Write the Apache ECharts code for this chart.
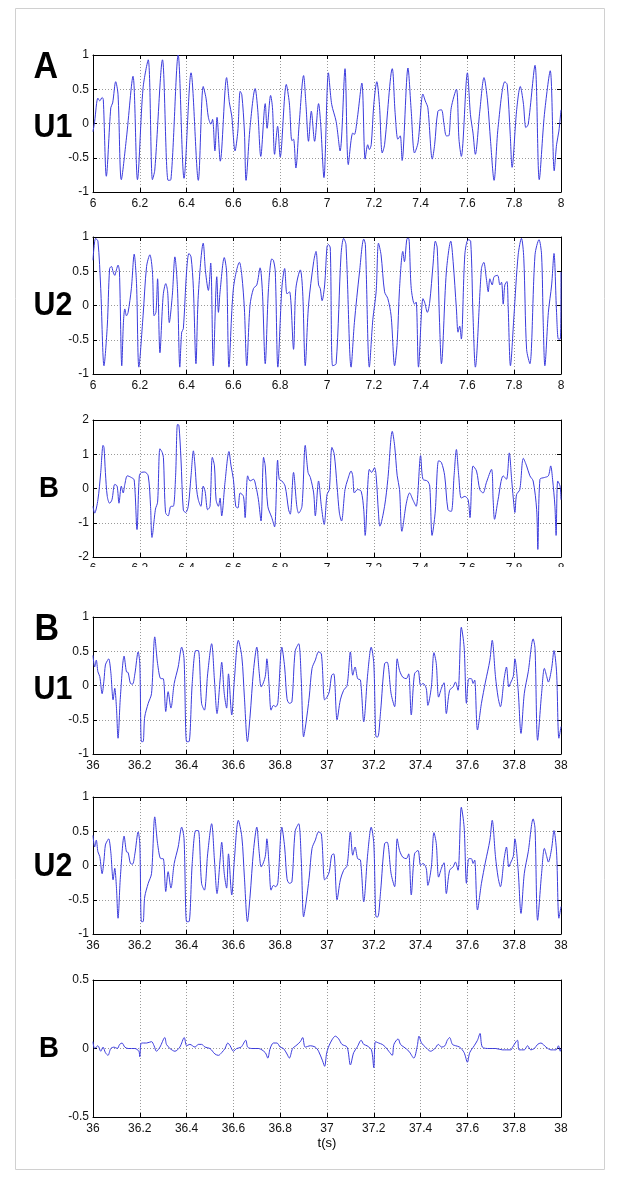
<!DOCTYPE html>
<html>
<head>
<meta charset="utf-8">
<script src="https://cdn.jsdelivr.net/npm/echarts@6/dist/echarts.min.js"></script>
<style>
  html, body { margin: 0; padding: 0; background: #fff; }
  #chart { width: 619px; height: 1178px; }
</style>
</head>
<body>
<div id="chart"></div>
<script>
// case A, t = 6..8 s  -- [t, value]
const aU1 = [
  [6.000,-0.12],[6.007,0.03],[6.021,0.37],[6.029,0.33],[6.039,0.38],[6.044,0.35],[6.057,-0.77],
  [6.076,0.23],[6.084,0.30],[6.097,0.61],[6.107,0.42],[6.121,-0.82],[6.143,-0.21],[6.171,0.69],
  [6.190,-0.82],[6.214,0.52],[6.236,0.93],[6.254,-0.82],[6.264,-0.68],[6.297,0.93],[6.321,-0.83],
  [6.333,-0.82],[6.364,1.0],[6.389,-0.80],[6.419,0.74],[6.450,-0.83],[6.471,0.54],[6.483,0.37],
  [6.493,0.09],[6.504,-0.01],[6.511,0.06],[6.521,-0.40],[6.530,0.09],[6.544,-0.55],[6.571,0.67],
  [6.583,0.30],[6.593,0.11],[6.607,-0.40],[6.619,-0.11],[6.629,0.47],[6.636,0.42],[6.647,-0.11],
  [6.654,-0.83],[6.671,-0.06],[6.693,0.51],[6.704,0.20],[6.717,-0.48],[6.736,0.29],[6.744,-0.07],
  [6.759,0.41],[6.767,0.23],[6.776,-0.45],[6.789,-0.04],[6.800,-0.49],[6.826,0.57],[6.839,0.30],
  [6.850,-0.25],[6.857,-0.23],[6.867,-0.65],[6.881,-0.01],[6.900,0.70],[6.910,0.28],[6.921,-0.26],
  [6.933,0.18],[6.947,-0.26],[6.964,0.29],[6.973,-0.01],[6.987,-0.79],[7.006,0.74],[7.020,0.28],
  [7.039,0.03],[7.056,-0.40],[7.077,0.80],[7.091,-0.60],[7.110,-0.14],[7.117,-0.16],[7.129,0.06],
  [7.149,0.59],[7.163,-0.52],[7.174,-0.31],[7.181,-0.38],[7.189,-0.31],[7.200,0.28],[7.213,0.61],
  [7.224,0.28],[7.236,-0.43],[7.246,-0.31],[7.279,0.80],[7.291,0.16],[7.303,-0.23],[7.313,-0.18],
  [7.321,-0.54],[7.346,0.81],[7.360,0.18],[7.374,-0.43],[7.389,-0.28],[7.410,0.43],[7.420,0.33],
  [7.431,0.23],[7.450,-0.52],[7.460,-0.31],[7.474,0.18],[7.489,0.20],[7.500,-0.01],[7.510,-0.18],
  [7.520,-0.18],[7.531,0.23],[7.553,0.50],[7.564,-0.23],[7.574,-0.48],[7.600,0.74],[7.613,0.13],
  [7.624,-0.14],[7.634,-0.45],[7.653,0.18],[7.671,0.67],[7.686,0.33],[7.699,-0.26],[7.714,-0.83],
  [7.731,-0.06],[7.760,0.61],[7.770,0.57],[7.783,-0.16],[7.791,-0.64],[7.810,0.18],[7.826,0.54],
  [7.839,0.30],[7.850,-0.06],[7.860,-0.01],[7.889,0.85],[7.907,-0.82],[7.929,0.13],[7.954,0.77],
  [7.971,-0.69],[7.981,-0.31],[7.991,-0.11],[8.000,0.20]
];
const aU2 = [
  [6.000,0.66],[6.011,0.98],[6.021,0.94],[6.033,0.25],[6.047,-0.88],[6.061,-0.30],[6.071,0.54],
  [6.079,0.57],[6.086,0.49],[6.093,0.44],[6.100,0.52],[6.107,0.59],[6.113,0.49],[6.123,-0.88],
  [6.130,-0.25],[6.136,-0.05],[6.143,-0.15],[6.150,-0.10],[6.164,0.25],[6.176,0.75],[6.186,0.32],
  [6.196,-0.90],[6.214,-0.15],[6.229,0.57],[6.243,0.74],[6.254,0.49],[6.261,-0.15],[6.269,-0.10],
  [6.276,0.39],[6.286,-0.69],[6.300,0.15],[6.311,0.32],[6.319,0.20],[6.326,-0.25],[6.339,0.15],
  [6.350,0.71],[6.361,0.25],[6.371,-0.90],[6.379,-0.39],[6.386,-0.34],[6.400,0.50],[6.410,0.76],
  [6.419,0.71],[6.429,0.25],[6.440,-0.85],[6.450,0.15],[6.471,0.91],[6.481,0.49],[6.493,0.22],
  [6.503,0.62],[6.514,-0.88],[6.529,0.42],[6.536,-0.10],[6.543,0.20],[6.561,0.70],[6.571,0.49],
  [6.581,-0.90],[6.600,0.25],[6.626,0.63],[6.636,0.44],[6.647,-0.05],[6.657,-0.88],[6.671,0.00],
  [6.686,0.25],[6.700,0.30],[6.714,0.55],[6.724,0.20],[6.736,-0.85],[6.750,0.25],[6.764,0.68],
  [6.771,0.66],[6.779,0.49],[6.790,-0.90],[6.807,0.25],[6.819,0.54],[6.829,0.17],[6.840,0.20],
  [6.857,-0.64],[6.867,0.25],[6.886,0.52],[6.896,0.20],[6.907,-0.88],[6.921,0.00],[6.943,0.64],
  [6.953,0.79],[6.964,0.30],[6.971,0.25],[6.979,0.07],[6.990,0.30],[7.000,0.86],[7.006,0.89],
  [7.014,0.84],[7.024,-0.88],[7.039,-0.85],[7.060,0.74],[7.071,0.98],[7.081,0.89],[7.103,-0.90],
  [7.117,-0.25],[7.139,0.49],[7.157,0.97],[7.164,0.89],[7.181,-0.90],[7.196,-0.20],[7.210,0.20],
  [7.220,0.91],[7.231,0.74],[7.246,0.20],[7.260,0.10],[7.274,-0.15],[7.289,-0.88],[7.300,-0.54],
  [7.310,0.25],[7.324,0.79],[7.331,0.64],[7.343,0.98],[7.349,0.98],[7.360,0.25],[7.374,0.02],
  [7.381,0.05],[7.391,-0.90],[7.410,0.10],[7.417,0.05],[7.429,-0.10],[7.439,0.05],[7.453,0.59],
  [7.463,0.94],[7.471,0.84],[7.481,-0.25],[7.489,-0.85],[7.510,0.49],[7.529,0.94],[7.539,0.64],
  [7.553,-0.05],[7.560,-0.39],[7.567,-0.30],[7.574,-0.49],[7.589,0.74],[7.603,0.96],[7.614,0.94],
  [7.624,-0.15],[7.634,-0.90],[7.660,0.54],[7.670,0.63],[7.681,0.39],[7.689,0.20],[7.696,0.39],
  [7.706,0.30],[7.714,0.42],[7.729,0.44],[7.739,0.30],[7.746,0.34],[7.753,0.02],[7.760,0.30],
  [7.769,0.35],[7.774,0.00],[7.784,-0.88],[7.799,-0.15],[7.817,0.74],[7.831,0.98],[7.841,0.69],
  [7.853,-0.64],[7.867,-0.85],[7.889,0.74],[7.906,0.96],[7.917,0.74],[7.924,-0.25],[7.931,-0.88],
  [7.946,-0.10],[7.960,0.30],[7.970,0.76],[7.981,-0.10],[7.989,-0.49],[7.997,-0.49],[8.000,0.49]
];
const aB = [
  [6.000,-0.52],[6.007,-0.72],[6.021,-0.33],[6.033,0.47],[6.043,1.26],[6.047,1.20],[6.053,0.47],
  [6.061,-0.23],[6.071,-0.43],[6.081,-0.33],[6.093,0.12],[6.103,0.07],[6.111,-0.43],[6.121,0.07],
  [6.129,-0.13],[6.136,0.12],[6.147,0.37],[6.164,0.32],[6.176,0.25],[6.188,-1.20],[6.198,0.37],
  [6.207,0.47],[6.221,0.48],[6.236,0.37],[6.246,-0.53],[6.252,-1.43],[6.267,-0.60],[6.276,-0.40],
  [6.286,1.16],[6.296,1.05],[6.301,0.90],[6.310,-0.70],[6.321,-0.80],[6.333,-0.52],[6.343,-0.52],
  [6.353,0.37],[6.361,1.87],[6.367,1.85],[6.376,0.86],[6.386,-0.63],[6.396,-0.70],[6.407,-0.52],
  [6.419,0.37],[6.429,1.10],[6.436,0.66],[6.443,-0.03],[6.450,-0.33],[6.461,-0.52],[6.471,0.07],
  [6.479,-0.08],[6.490,-0.62],[6.500,-0.52],[6.510,0.91],[6.519,0.66],[6.526,-0.33],[6.536,-0.52],
  [6.543,-0.28],[6.550,-0.80],[6.564,0.17],[6.581,1.08],[6.590,0.66],[6.600,0.27],[6.610,-0.52],
  [6.619,-0.57],[6.629,-0.13],[6.643,-0.23],[6.650,-0.85],[6.661,0.37],[6.671,0.22],[6.686,0.27],
  [6.696,0.07],[6.707,-0.33],[6.718,-0.95],[6.729,0.91],[6.736,0.66],[6.747,-0.52],[6.764,-0.85],
  [6.776,-1.12],[6.789,0.83],[6.796,0.27],[6.807,0.22],[6.821,0.07],[6.836,-0.62],[6.843,-0.75],
  [6.857,0.47],[6.871,-0.52],[6.879,-0.72],[6.893,-0.52],[6.907,1.26],[6.919,0.47],[6.929,0.32],
  [6.943,-0.13],[6.950,-0.80],[6.964,0.22],[6.976,-0.52],[6.988,-1.05],[7.000,-0.18],[7.010,-0.03],
  [7.021,1.20],[7.031,1.00],[7.043,0.07],[7.053,-0.72],[7.062,-0.95],[7.077,-0.03],[7.089,0.27],
  [7.103,0.51],[7.110,0.37],[7.117,-0.13],[7.131,-0.03],[7.146,-0.08],[7.157,-0.62],[7.163,-1.37],
  [7.181,0.56],[7.191,0.47],[7.203,0.61],[7.210,0.37],[7.220,-0.72],[7.226,-1.10],[7.246,-0.52],
  [7.260,0.27],[7.279,1.67],[7.289,1.25],[7.300,0.37],[7.310,-0.03],[7.320,-1.25],[7.339,-0.43],
  [7.353,-0.13],[7.367,-0.33],[7.381,-0.52],[7.400,0.96],[7.410,0.27],[7.429,0.22],[7.439,0.07],
  [7.449,-1.37],[7.462,-0.72],[7.477,0.81],[7.489,0.76],[7.503,0.37],[7.517,-0.62],[7.531,-0.67],
  [7.543,0.37],[7.553,1.14],[7.563,0.37],[7.574,-0.28],[7.589,-0.23],[7.603,-0.33],[7.611,-0.85],
  [7.624,0.66],[7.639,0.51],[7.653,-0.03],[7.667,-0.13],[7.681,0.17],[7.703,0.56],[7.710,-0.33],
  [7.716,-0.90],[7.731,-0.33],[7.753,0.37],[7.767,0.27],[7.779,1.04],[7.789,0.27],[7.796,-0.28],
  [7.803,-0.70],[7.810,-0.18],[7.824,-0.03],[7.839,0.88],[7.853,0.66],[7.867,0.37],[7.881,0.22],
  [7.896,-0.62],[7.901,-1.78],[7.910,0.27],[7.929,0.32],[7.946,0.37],[7.956,0.66],[7.964,0.27],
  [7.974,-0.52],[7.979,-1.37],[7.986,0.22],[7.996,0.07],[8.000,-0.33]
];

// case B, t = 36..38 s
const bU1 = [
  [36.000,0.44],[36.007,0.27],[36.014,0.37],[36.021,0.20],[36.029,0.13],[36.039,-0.12],[36.047,0.08],
  [36.053,0.30],[36.061,0.36],[36.067,0.39],[36.076,0.20],[36.086,-0.21],[36.093,-0.04],[36.100,-0.31],
  [36.107,-0.77],[36.117,-0.17],[36.133,0.43],[36.143,0.20],[36.150,0.19],[36.160,0.03],[36.169,0.02],
  [36.179,0.17],[36.193,0.49],[36.200,0.32],[36.207,-0.82],[36.214,-0.82],[36.221,-0.46],[36.236,-0.26],
  [36.250,-0.12],[36.264,0.71],[36.276,0.32],[36.290,0.10],[36.300,0.10],[36.311,-0.38],[36.321,-0.09],
  [36.333,-0.33],[36.347,0.03],[36.364,0.27],[36.379,0.56],[36.389,0.39],[36.400,-0.82],[36.410,-0.82],
  [36.424,0.03],[36.439,0.51],[36.450,0.51],[36.464,-0.26],[36.476,-0.36],[36.490,0.17],[36.507,0.61],
  [36.519,0.08],[36.530,-0.41],[36.543,0.08],[36.550,0.34],[36.561,-0.12],[36.571,-0.33],[36.579,0.17],
  [36.593,-0.43],[36.604,0.08],[36.621,0.66],[36.636,0.42],[36.647,-0.17],[36.660,-0.82],[36.671,-0.46],
  [36.686,0.22],[36.700,0.56],[36.710,0.20],[36.719,-0.02],[36.736,0.13],[36.743,0.39],[36.753,-0.02],
  [36.761,-0.36],[36.771,-0.29],[36.781,-0.31],[36.790,-0.25],[36.807,0.56],[36.819,0.27],[36.829,-0.19],
  [36.839,-0.26],[36.850,-0.24],[36.864,0.50],[36.879,0.61],[36.890,0.08],[36.900,-0.75],[36.910,-0.55],
  [36.924,-0.17],[36.936,0.25],[36.950,0.37],[36.964,0.49],[36.976,0.46],[36.990,-0.21],[37.000,-0.17],
  [37.010,-0.09],[37.020,0.15],[37.029,0.17],[37.043,-0.50],[37.057,-0.21],[37.071,-0.07],[37.086,0.00],
  [37.100,0.49],[37.110,0.15],[37.120,0.27],[37.131,0.10],[37.143,0.08],[37.157,-0.53],[37.174,0.17],
  [37.189,0.56],[37.200,0.32],[37.210,-0.75],[37.217,-0.75],[37.229,-0.38],[37.246,0.32],[37.257,0.34],
  [37.274,-0.12],[37.289,-0.31],[37.300,0.39],[37.310,0.22],[37.324,0.12],[37.339,0.10],[37.349,0.17],
  [37.360,-0.43],[37.374,0.17],[37.389,0.22],[37.400,0.00],[37.410,0.03],[37.424,-0.04],[37.431,-0.29],
  [37.446,-0.02],[37.457,0.48],[37.467,0.32],[37.477,-0.17],[37.489,-0.04],[37.500,0.04],[37.510,-0.41],
  [37.524,-0.07],[37.539,-0.02],[37.549,0.05],[37.560,-0.07],[37.574,0.85],[37.586,0.56],[37.596,-0.26],
  [37.606,0.10],[37.617,0.10],[37.624,0.03],[37.631,0.08],[37.643,-0.65],[37.660,-0.26],[37.677,0.05],
  [37.696,0.37],[37.706,0.66],[37.720,0.13],[37.731,-0.17],[37.741,-0.31],[37.757,0.10],[37.767,0.27],
  [37.777,-0.02],[37.786,0.05],[37.796,0.13],[37.803,0.39],[37.817,-0.07],[37.829,-0.70],[37.843,-0.12],
  [37.860,0.20],[37.881,0.68],[37.889,0.54],[37.900,-0.80],[37.917,-0.12],[37.929,0.25],[37.939,0.13],
  [37.946,0.05],[37.960,0.25],[37.970,0.51],[37.981,0.20],[37.991,-0.77],[38.000,-0.60]
];
// U2 in case B follows U1 to within the line width
const bU2 = bU1;
const bB = [
  [36.000,0.05],[36.007,0.00],[36.021,0.02],[36.033,-0.02],[36.043,0.01],[36.053,-0.03],[36.064,-0.05],
  [36.076,0.00],[36.090,0.01],[36.104,0.00],[36.114,0.03],[36.124,0.04],[36.136,0.01],[36.150,0.00],
  [36.179,0.00],[36.196,-0.02],[36.200,-0.06],[36.207,0.04],[36.229,0.04],[36.250,0.05],[36.261,0.02],
  [36.271,-0.02],[36.286,0.01],[36.307,0.08],[36.314,0.03],[36.329,0.00],[36.350,-0.02],[36.371,0.01],
  [36.390,0.08],[36.400,0.02],[36.414,0.03],[36.436,0.01],[36.450,0.03],[36.464,0.03],[36.479,0.01],
  [36.500,0.00],[36.521,-0.04],[36.536,-0.05],[36.550,-0.03],[36.564,0.00],[36.576,0.04],[36.586,0.02],
  [36.600,-0.02],[36.614,0.00],[36.633,0.01],[36.653,0.06],[36.661,0.01],[36.679,0.00],[36.707,0.00],
  [36.736,-0.03],[36.747,-0.07],[36.757,0.00],[36.771,0.04],[36.786,0.04],[36.800,0.01],[36.814,0.00],
  [36.829,-0.04],[36.839,-0.07],[36.853,0.00],[36.867,0.02],[36.886,0.05],[36.896,0.08],[36.907,0.01],
  [36.929,0.02],[36.950,0.01],[36.964,-0.02],[36.981,-0.09],[36.990,-0.13],[36.999,-0.03],[37.014,0.04],
  [37.036,0.09],[37.050,0.07],[37.064,0.03],[37.086,0.01],[37.100,-0.12],[37.114,-0.03],[37.129,0.01],
  [37.146,0.06],[37.157,0.03],[37.171,0.02],[37.190,-0.01],[37.200,-0.14],[37.207,0.05],[37.221,0.04],
  [37.236,0.03],[37.250,0.01],[37.264,-0.02],[37.279,-0.05],[37.286,0.03],[37.304,0.07],[37.314,0.03],
  [37.329,0.01],[37.350,-0.02],[37.371,-0.07],[37.386,0.02],[37.393,0.09],[37.404,0.04],[37.421,0.01],
  [37.443,-0.02],[37.461,0.00],[37.476,0.03],[37.490,0.01],[37.504,0.02],[37.514,0.06],[37.524,0.08],
  [37.536,0.03],[37.550,0.02],[37.567,0.01],[37.586,-0.03],[37.600,-0.10],[37.610,-0.03],[37.629,0.02],
  [37.643,0.06],[37.654,0.11],[37.664,0.01],[37.693,0.00],[37.721,0.00],[37.750,-0.01],[37.786,-0.01],
  [37.793,0.01],[37.814,0.06],[37.821,-0.01],[37.843,-0.01],[37.857,0.02],[37.871,-0.01],[37.886,0.00],
  [37.900,0.03],[37.914,0.04],[37.936,0.01],[37.957,-0.01],[37.979,-0.01],[37.989,0.02],[37.997,-0.02],
  [38.000,0.00]
];

const xRangeA = [6, 8];
const xRangeB = [36, 38];

const panels = [
  { data: aU1, x: xRangeA, y: [-1, 1, 0.5], top: 55 },
  { data: aU2, x: xRangeA, y: [-1, 1, 0.5], top: 237 },
  { data: aB,  x: xRangeA, y: [-2, 2, 1],   top: 420 },
  { data: bU1, x: xRangeB, y: [-1, 1, 0.5], top: 617 },
  { data: bU2, x: xRangeB, y: [-1, 1, 0.5], top: 797 },
  { data: bB,  x: xRangeB, y: [-0.5, 0.5, 0.5], top: 980 }
];

const chart = echarts.init(document.getElementById('chart'), null, { renderer: 'canvas' });

const tickFont = "'Liberation Sans', Arial, sans-serif";
const frame = { show: true, onZero: false, lineStyle: { color: '#000', width: 1 } };
const ticks = { show: true, inside: true, length: 4, lineStyle: { color: '#000' } };
const dotted = { show: true, lineStyle: { color: '#9a9a9a', type: [1, 2], width: 1 } };
const fmt = v => String(+v.toFixed(1));

const grid = [], xAxis = [], yAxis = [], series = [];
panels.forEach((p, i) => {
  grid.push({ left: 93, width: 468, top: p.top, height: 137 });
  xAxis.push({
    type: 'value', gridIndex: i, min: p.x[0], max: p.x[1], interval: 0.2, position: 'bottom',
    axisLine: frame, axisTick: ticks,
    axisLabel: { color: '#111', fontSize: 12, fontFamily: tickFont, margin: 6, formatter: fmt },
    splitLine: dotted
  });
  xAxis.push({
    type: 'value', gridIndex: i, min: p.x[0], max: p.x[1], interval: 0.2, position: 'top',
    axisLine: frame, axisTick: ticks, axisLabel: { show: false }, splitLine: { show: false }
  });
  yAxis.push({
    type: 'value', gridIndex: i, min: p.y[0], max: p.y[1], interval: p.y[2], position: 'left',
    axisLine: frame, axisTick: ticks,
    axisLabel: { color: '#111', fontSize: 12, fontFamily: tickFont, margin: 4, formatter: fmt },
    splitLine: dotted
  });
  yAxis.push({
    type: 'value', gridIndex: i, min: p.y[0], max: p.y[1], interval: p.y[2], position: 'right',
    axisLine: frame, axisTick: ticks, axisLabel: { show: false }, splitLine: { show: false }
  });
  series.push({
    type: 'line', xAxisIndex: 2 * i, yAxisIndex: 2 * i, data: p.data,
    showSymbol: false, symbol: 'none', smooth: 0.3,
    lineStyle: { color: '#3b3bdc', width: 1 }, clip: true
  });
});

const label = (text, x, y, size) => ({
  type: 'text', x: x, y: y, z: 10, scaleX: 0.92, originX: x,
  style: { text: text, fill: '#000', font: "bold " + size + "px 'Liberation Sans', Arial, sans-serif" }
});

chart.setOption({
  animation: false,
  grid: grid, xAxis: xAxis, yAxis: yAxis, series: series,
  graphic: [
    { type: 'rect', shape: { x: 15.5, y: 8.5, width: 589, height: 1161 },
      style: { fill: 'none', stroke: '#d0d0d0', lineWidth: 1 }, z: -1 },
    // the lower labels of the third panel are cut off in the figure
    { type: 'rect', shape: { x: 60, y: 567, width: 530, height: 38 },
      style: { fill: '#fff' }, z: 20 },
    label('A', 31, 49, 37),
    label('U1', 31, 111, 33),
    label('U2', 31, 289, 33),
    label('B', 36, 474, 30),
    label('B', 32, 611, 37),
    label('U1', 31, 673, 33),
    label('U2', 31, 850, 33),
    label('B', 36, 1034, 30),
    { type: 'text', x: 327, y: 1137, z: 10,
      style: { text: 't(s)', fill: '#000', font: "13px 'Liberation Sans', Arial, sans-serif", align: 'center' } }
  ]
});
</script>
</body>
</html>
